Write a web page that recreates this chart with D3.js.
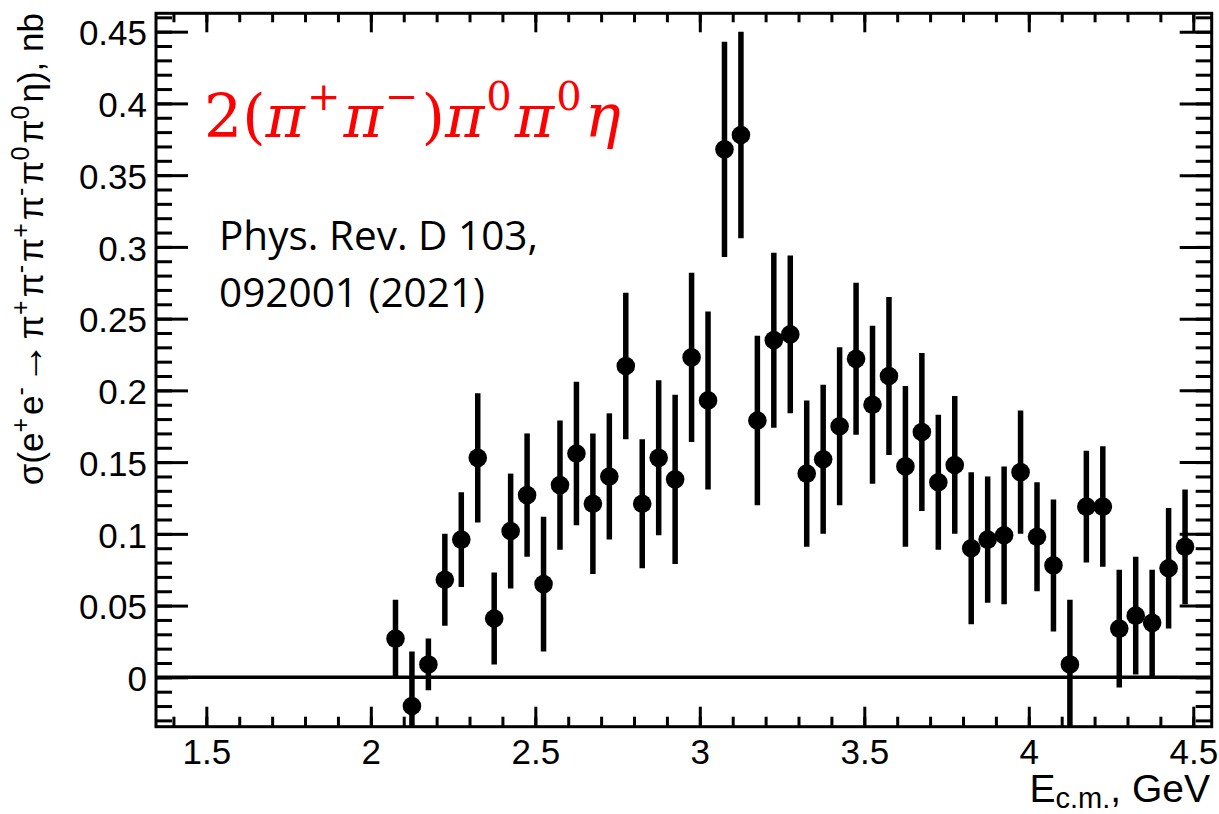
<!DOCTYPE html>
<html>
<head>
<meta charset="utf-8">
<title>2(pi+pi-)pi0pi0eta cross section</title>
<style>
  body { margin: 0; background: #fff; }
  svg { display: block; }
  .tick text { font-family: Arial, Helvetica, "Liberation Sans", sans-serif; font-size: 35px; fill: #000; }
</style>
</head>
<body>
<div id="chart"></div>
<script src="https://d3js.org/d3.v7.min.js"></script>
<script>
// Energy points, GeV
const energy = [2.075, 2.125, 2.175, 2.225, 2.275, 2.325, 2.375, 2.425, 2.475, 2.525,
                2.575, 2.625, 2.675, 2.725, 2.775, 2.825, 2.875, 2.925, 2.975, 3.025,
                3.075, 3.125, 3.175, 3.225, 3.275, 3.325, 3.375, 3.425, 3.475, 3.525,
                3.575, 3.625, 3.675, 3.725, 3.775, 3.825, 3.875, 3.925, 3.975, 4.025,
                4.075, 4.125, 4.175, 4.225, 4.275, 4.325, 4.375, 4.425, 4.475];
// cross section, nb
const sigma = [0.027, -0.020, 0.009, 0.068, 0.096, 0.153, 0.041, 0.102, 0.127, 0.065,
               0.134, 0.156, 0.121, 0.140, 0.217, 0.121, 0.153, 0.138, 0.223, 0.193,
               0.368, 0.378, 0.179, 0.235, 0.239, 0.142, 0.152, 0.175, 0.222, 0.190,
               0.210, 0.147, 0.171, 0.136, 0.148, 0.090, 0.096, 0.099, 0.143, 0.098,
               0.078, 0.009, 0.119, 0.119, 0.034, 0.043, 0.038, 0.076, 0.091];
// errors, nb
const sigmaErr = [0.027, 0.038, 0.018, 0.032, 0.033, 0.045, 0.032, 0.040, 0.043, 0.047,
                  0.045, 0.050, 0.049, 0.044, 0.051, 0.045, 0.054, 0.059, 0.059, 0.062,
                  0.075, 0.072, 0.059, 0.061, 0.055, 0.051, 0.052, 0.055, 0.053, 0.055,
                  0.055, 0.056, 0.055, 0.047, 0.048, 0.053, 0.044, 0.048, 0.043, 0.038,
                  0.046, 0.045, 0.039, 0.042, 0.041, 0.041, 0.037, 0.042, 0.040];

const xMajor = [1.5, 2, 2.5, 3, 3.5, 4, 4.5];
const xLabels = ["1.5", "2", "2.5", "3", "3.5", "4", "4.5"];
const yMajor = [0, 0.05, 0.1, 0.15, 0.2, 0.25, 0.3, 0.35, 0.4, 0.45];
const yLabels = ["0", "0.05", "0.1", "0.15", "0.2", "0.25", "0.3", "0.35", "0.4", "0.45"];

const W = 1219, H = 814;
const frame = {left: 156, right: 1211.7, top: 13.3, bottom: 726.7};
const sansFont = 'Arial, Helvetica, "Liberation Sans", sans-serif';

const svg = d3.select('#chart').append('svg')
  .attr('width', W)
  .attr('height', H);

const x = d3.scaleLinear().domain([1.347, 4.556]).range([frame.left, frame.right]);
const y = d3.scaleLinear().domain([-0.0344, 0.4628]).range([frame.bottom, frame.top]);

const xMinor = d3.range(1.4, 4.56, 0.1).map(v => +v.toFixed(2));
const yMinor = d3.range(-0.03, 0.461, 0.01).map(v => +v.toFixed(2));

function styleAxis(g) {
  g.select('.domain').remove();
  g.selectAll('.tick line').attr('stroke', '#000').attr('stroke-width', 3);
}

// bottom
svg.append('g').attr('transform', `translate(0,${frame.bottom})`)
  .call(d3.axisBottom(x).tickValues(xMinor).tickSize(-10).tickFormat(''))
  .call(styleAxis);
svg.append('g').attr('transform', `translate(0,${frame.bottom})`)
  .call(d3.axisBottom(x).tickValues(xMajor).tickSize(-20).tickPadding(12)
    .tickFormat((d, i) => xLabels[i]))
  .call(styleAxis);
// top
svg.append('g').attr('transform', `translate(0,${frame.top})`)
  .call(d3.axisTop(x).tickValues(xMinor).tickSize(-9).tickFormat(''))
  .call(styleAxis);
svg.append('g').attr('transform', `translate(0,${frame.top})`)
  .call(d3.axisTop(x).tickValues(xMajor).tickSize(-19).tickFormat(''))
  .call(styleAxis);
// left
svg.append('g').attr('transform', `translate(${frame.left},0)`)
  .call(d3.axisLeft(y).tickValues(yMinor).tickSize(-16).tickFormat(''))
  .call(styleAxis);
const gy = svg.append('g').attr('transform', `translate(${frame.left},0)`)
  .call(d3.axisLeft(y).tickValues(yMajor).tickSize(-32).tickPadding(9)
    .tickFormat((d, i) => yLabels[i]))
  .call(styleAxis);
gy.selectAll('.tick text').attr('dy', '0.38em');
// right
svg.append('g').attr('transform', `translate(${frame.right},0)`)
  .call(d3.axisRight(y).tickValues(yMinor).tickSize(-16).tickFormat(''))
  .call(styleAxis);
svg.append('g').attr('transform', `translate(${frame.right},0)`)
  .call(d3.axisRight(y).tickValues(yMajor).tickSize(-32).tickFormat(''))
  .call(styleAxis);

// frame
svg.append('rect')
  .attr('x', frame.left).attr('y', frame.top)
  .attr('width', frame.right - frame.left).attr('height', frame.bottom - frame.top)
  .attr('fill', 'none').attr('stroke', '#000').attr('stroke-width', 3);

// zero line
svg.append('line')
  .attr('x1', frame.left).attr('x2', frame.right)
  .attr('y1', y(0)).attr('y2', y(0))
  .attr('stroke', '#000').attr('stroke-width', 3.5);

// data
svg.append('clipPath').attr('id', 'plotclip').append('rect')
  .attr('x', frame.left).attr('y', frame.top)
  .attr('width', frame.right - frame.left).attr('height', frame.bottom - frame.top);

const pts = energy.map((e, i) => ({e: e, v: sigma[i], err: sigmaErr[i]}));
const gData = svg.append('g').attr('clip-path', 'url(#plotclip)');

gData.selectAll('line.err').data(pts).enter().append('line')
  .attr('class', 'err')
  .attr('x1', d => x(d.e)).attr('x2', d => x(d.e))
  .attr('y1', d => y(d.v - d.err)).attr('y2', d => y(d.v + d.err))
  .attr('stroke', '#000').attr('stroke-width', 5.5);

gData.selectAll('circle').data(pts).enter().append('circle')
  .attr('cx', d => x(d.e)).attr('cy', d => y(d.v)).attr('r', 9.3)
  .attr('fill', '#000');

// x title
const xt = svg.append('text')
  .attr('x', 1210).attr('y', 802)
  .attr('text-anchor', 'end')
  .style('font-family', sansFont)
  .style('font-size', '39px');
xt.append('tspan').text('E');
xt.append('tspan').attr('dy', 6).style('font-size', '29px').text('c.m.');
xt.append('tspan').attr('dy', -6).text(', GeV');

// y title
const yt = svg.append('text')
  .attr('transform', 'translate(43,13) rotate(-90)')
  .attr('text-anchor', 'end')
  .style('font-family', sansFont)
  .style('font-size', '35px');
const yParts = [['σ(e', 0], ['+', 1], ['e', 0], ['-', 1], ['→', 0], ['π', 0], ['+', 1], ['π', 0], ['-', 1],
                ['π', 0], ['+', 1], ['π', 0], ['-', 1], ['π', 0], ['0', 1], ['π', 0], ['0', 1], ['η), nb', 0]];
let up = false;
yParts.forEach(p => {
  const t = yt.append('tspan').text(p[0]);
  if (p[1] && !up) { t.attr('dy', -14).style('font-size', '25px'); up = true; }
  else if (p[1]) { t.style('font-size', '25px'); }
  else if (up) { t.attr('dy', 14).attr('dx', 3); up = false; }
  if (p[0] === '→') t.attr('dx', 3).style('font-size', '42px');
  if (p[0] === 'π' && !up) t.attr('dx', 3);
});

// red reaction label
const rl = svg.append('text')
  .attr('x', 204).attr('y', 137)
  .attr('fill', '#ff0000')
  .style('font-family', '"DejaVu Serif", "Liberation Serif", serif')
  .style('font-size', '60px');
const rParts = [['2(', 'n'], ['π', 'i'], ['+', 's'], ['π', 'i'], ['−', 's'], [')', 'n'],
                ['π', 'i'], ['0', 's'], ['π', 'i'], ['0', 's'], ['η', 'i']];
let rUp = false;
rParts.forEach(p => {
  const t = rl.append('tspan').text(p[0]);
  if (p[1] === 'i') t.style('font-style', 'italic');
  if (p[1] === 's') {
    t.style('font-size', '40px');
    if (!rUp) { t.attr('dy', -27).attr('dx', 2); rUp = true; }
  } else if (rUp) { t.attr('dy', 27).attr('dx', 3); rUp = false; }
});

// reference text
const ref = svg.append('text')
  .style('font-family', '"Open Sans", Lato, sans-serif')
  .style('font-size', '40.5px')
  .attr('fill', '#000');
ref.append('tspan').attr('x', 219).attr('y', 250).text('Phys. Rev. D 103,');
ref.append('tspan').attr('x', 219).attr('y', 306.7).text('092001 (2021)');
</script>
</body>
</html>
